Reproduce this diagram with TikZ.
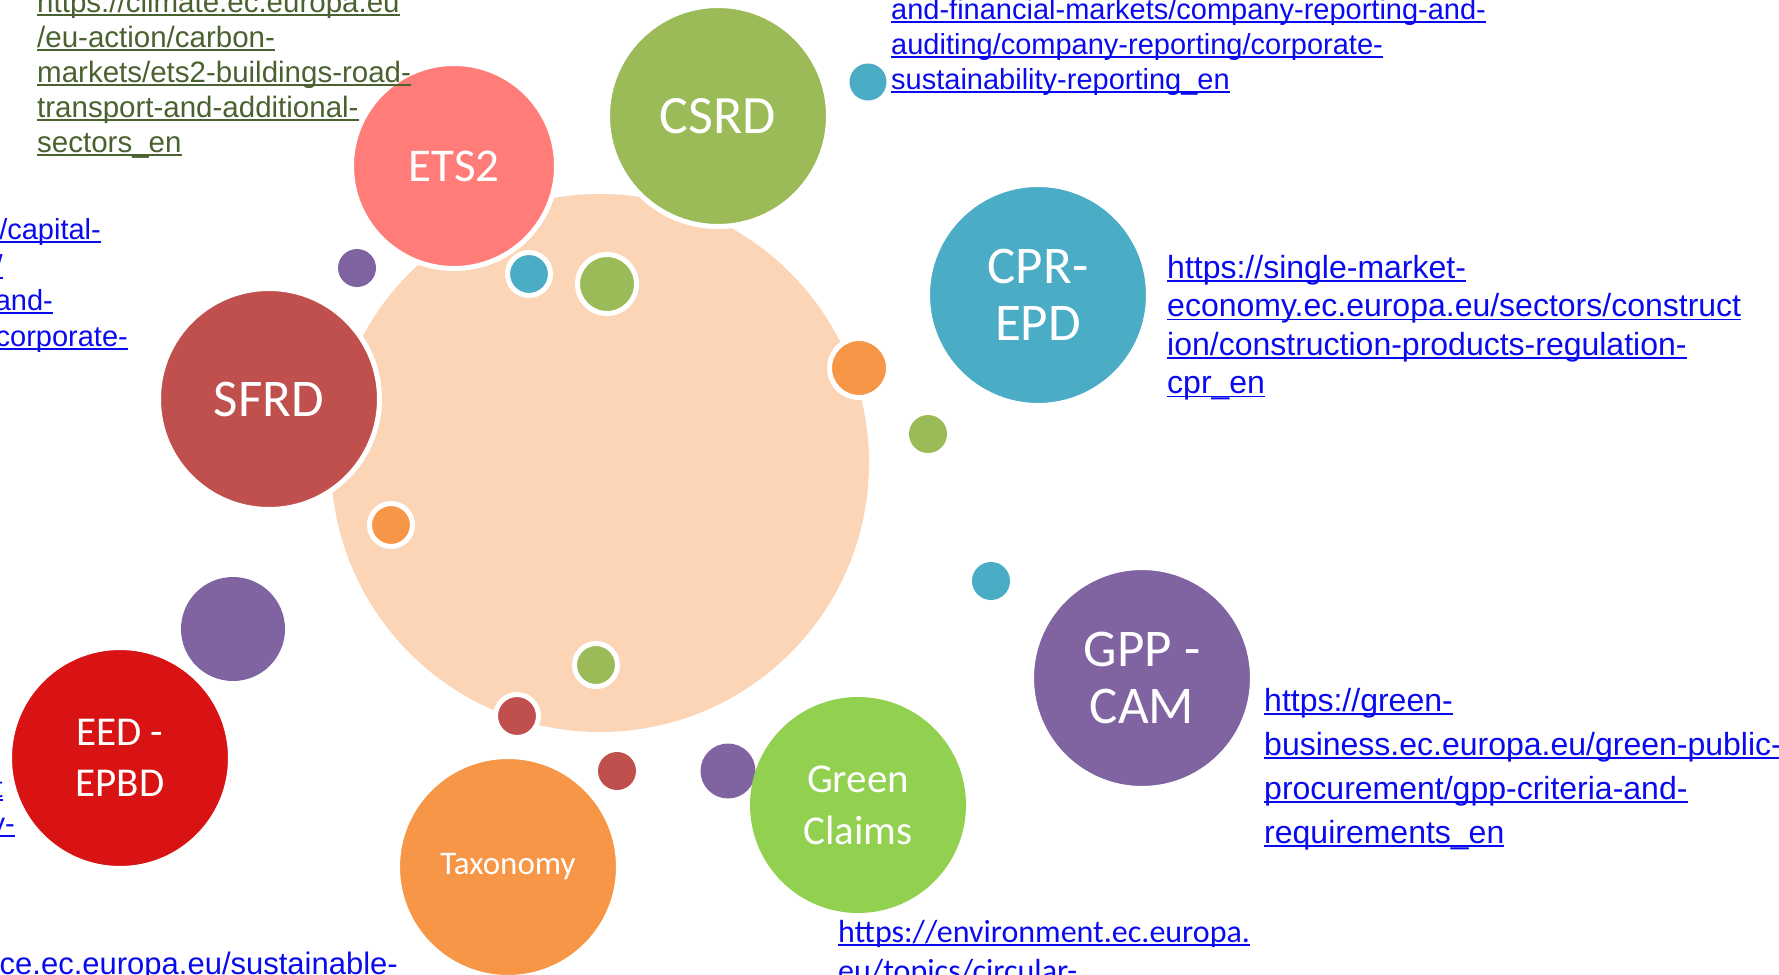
\documentclass[tikz,border=0pt]{standalone}
\usepackage{fontspec}
\setmainfont{Carlito}
\newfontfamily\linkfont{Liberation Sans}
\usetikzlibrary{positioning}
\definecolor{peach}{HTML}{FBD5B5}
\definecolor{csrdgreen}{HTML}{9BBB59}
\definecolor{ets2pink}{HTML}{FF7C79}
\definecolor{sfrdred}{HTML}{C0504D}
\definecolor{cprblue}{HTML}{4BACC6}
\definecolor{gpppurple}{HTML}{8064A2}
\definecolor{claimsgreen}{HTML}{92D050}
\definecolor{taxoorange}{HTML}{F79646}
\definecolor{eedred}{HTML}{D91313}
\definecolor{linkblue}{HTML}{0A0AEE}
\definecolor{linkgreen}{HTML}{4A6130}
% underlined link line
\newcommand{\lnk}[1]{\setbox0=\hbox{#1}\rlap{\rule[-3.5pt]{\wd0}{1.5pt}}\box0}
\tikzstyle{bubble} = [
    circle,
    inner sep = 0pt,
    text = white,
    align = center,
]
\tikzstyle{ringed} = [draw = white, line width = 5pt]
\tikzstyle{dot} = [circle, inner sep = 0pt]
\tikzstyle{link} = [inner sep = 0pt, text = linkblue]
\begin{document}
\begin{tikzpicture} [x = 1pt, y = -1pt]
    \useasboundingbox (0,0) rectangle (1779,974);
    \node (core) [dot, fill = peach, minimum size = 538pt] at (600,463) {};

    \node (csrd) [bubble, ringed, fill = csrdgreen, minimum size = 221pt, font = \fontsize{54}{58}\selectfont] at (718,116) {CSRD};
    \node (ets2) [bubble, ringed, fill = ets2pink, minimum size = 205pt, font = \fontsize{47}{52}\selectfont] at (454,166) {ETS2};
    \node (sfrd) [bubble, ringed, fill = sfrdred, minimum size = 221pt, font = \fontsize{53}{57}\selectfont] at (269,399) {SFRD};
    \node (cpr) [bubble, ringed, fill = cprblue, minimum size = 221pt, font = \fontsize{53}{57}\selectfont] at (1038,295) {CPR-\\EPD};
    \node (gpp) [bubble, ringed, fill = gpppurple, minimum size = 221pt, font = \fontsize{53}{57}\selectfont] at (1142,678) {GPP -\\CAM};
    \node (taxonomy) [bubble, ringed, fill = taxoorange, minimum size = 221pt, font = \fontsize{33}{38}\selectfont] at (508,867) {Taxonomy};
    \node (eed) [bubble, ringed, fill = eedred, minimum size = 221pt, font = \fontsize{41}{51}\selectfont] at (120,758) {EED -\\EPBD};

    \node (dot1) [dot, fill = gpppurple, minimum size = 38pt] at (357,268) {};
    \node (dot2) [dot, ringed, fill = cprblue, minimum size = 43pt] at (529,274) {};
    \node (dot3) [dot, ringed, fill = csrdgreen, minimum size = 59pt] at (607,284) {};
    \node (dot4) [dot, fill = cprblue, minimum size = 37pt] at (868,82) {};
    \node (dot5) [dot, ringed, fill = taxoorange, minimum size = 59pt] at (859,368) {};
    \node (dot6) [dot, fill = csrdgreen, minimum size = 38pt] at (928,434) {};
    \node (dot7) [dot, fill = cprblue, minimum size = 38pt] at (991,581) {};
    \node (dot8) [dot, ringed, fill = taxoorange, minimum size = 43pt] at (391,525) {};
    \node (dot9) [dot, fill = gpppurple, minimum size = 104pt] at (233,629) {};
    \node (dot10) [dot, ringed, fill = csrdgreen, minimum size = 43pt] at (596,665) {};
    \node (dot11) [dot, ringed, fill = sfrdred, minimum size = 43pt] at (517,716) {};
    \node (dot12) [dot, fill = sfrdred, minimum size = 38pt] at (617,771) {};
    \node (dot13) [dot, fill = gpppurple, minimum size = 55pt] at (728,771) {};
    \node (claims) [bubble, fill = claimsgreen, minimum size = 216pt, font = \fontsize{41}{52}\selectfont] at (858,805) {Green\\Claims};

    \node (ets2link) [link, anchor = north west, align = left, text = linkgreen, font = \linkfont\fontsize{29.5}{35}\selectfont] at (37,-9.5) {\lnk{https://climate.ec.europa.eu}\\\lnk{/eu-action/carbon-}\\\lnk{markets/ets2-buildings-road-}\\\lnk{transport-and-additional-}\\\lnk{sectors\_en}};
    \node (csrdlink) [link, anchor = north west, align = left, font = \linkfont\fontsize{29}{35}\selectfont] at (891,-2) {\lnk{and-financial-markets/company-reporting-and-}\\\lnk{auditing/company-reporting/corporate-}\\\lnk{sustainability-reporting\_en}};
    \node (cprlink) [link, anchor = north west, align = left, font = \linkfont\fontsize{32}{38.5}\selectfont] at (1167,255) {\lnk{https://single-market-}\\\lnk{economy.ec.europa.eu/sectors/construct}\\\lnk{ion/construction-products-regulation-}\\\lnk{cpr\_en}};
    \node (gpplink) [link, anchor = north west, align = left, font = \linkfont\fontsize{32}{44}\selectfont] at (1264,688) {\lnk{https://green-}\\\lnk{business.ec.europa.eu/green-public-}\\\lnk{procurement/gpp-criteria-and-}\\\lnk{requirements\_en}};
    \node (claimslink) [link, anchor = north west, align = left, font = \fontsize{32}{39}\selectfont] at (838,920) {\lnk{https://environment.ec.europa.}\\\lnk{eu/topics/circular-}};

    \node (sfrdlink1) [link, anchor = base east, font = \linkfont\fontsize{29}{35}\selectfont] at (101,239) {\lnk{/capital-}};
    \node (sfrdlink2) [link, anchor = base east, font = \linkfont\fontsize{29}{35}\selectfont] at (3,275) {\lnk{/}};
    \node (sfrdlink3) [link, anchor = base east, font = \linkfont\fontsize{29}{35}\selectfont] at (53,310) {\lnk{and-}};
    \node (sfrdlink4) [link, anchor = base east, font = \linkfont\fontsize{29}{35}\selectfont] at (128,346) {\lnk{corporate-}};
    \node (eedlink1) [link, anchor = base east, font = \linkfont\fontsize{29}{35}\selectfont] at (3,797) {\lnk{t}};
    \node (eedlink2) [link, anchor = base east, font = \linkfont\fontsize{29}{35}\selectfont] at (15,833) {\lnk{y-}};
    \node (taxolink) [link, anchor = base east, font = \linkfont\fontsize{31}{37}\selectfont] at (398,974) {\lnk{ce.ec.europa.eu/sustainable-}};
\end{tikzpicture}
\end{document}
